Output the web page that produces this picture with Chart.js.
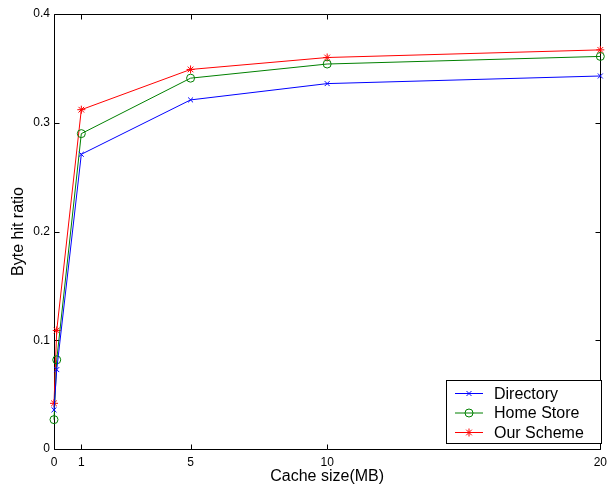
<!DOCTYPE html>
<html>
<head>
<meta charset="utf-8">
<script src="https://cdn.jsdelivr.net/npm/chart.js@4.4.1/dist/chart.umd.min.js"></script>
<style>
html,body{margin:0;padding:0;background:#fff;}
#c{display:block;}
</style>
</head>
<body>
<canvas id="c" width="613" height="486"></canvas>
<script>
const cacheSizes = [0, 0.1, 1, 5, 10, 20];
const directory = [0.036, 0.073, 0.271, 0.321, 0.336, 0.343];
const homeStore = [0.027, 0.082, 0.290, 0.341, 0.354, 0.361];
const ourScheme = [0.042, 0.109, 0.312, 0.349, 0.360, 0.367];
const xTicks = [0, 1, 5, 10, 20];
const yTicks = [0, 0.1, 0.2, 0.3, 0.4];
const seriesNames = ['Directory', 'Home Store', 'Our Scheme'];

const FONT = '"Liberation Sans", Arial, Helvetica, sans-serif';

function pts(ys){ return cacheSizes.map((x,i)=>({x:x, y:ys[i]})); }

const styles = [
  {color:'#0000ff', pointStyle:'crossRot', radius:3.5},
  {color:'#008000', pointStyle:'circle', radius:4},
  {color:'#ff0000', pointStyle:'star', radius:4}
];
const values = [directory, homeStore, ourScheme];

const datasets = values.map((v,i)=>({
  label: seriesNames[i],
  data: pts(v),
  borderColor: styles[i].color,
  backgroundColor: 'rgba(0,0,0,0)',
  borderWidth: 1,
  pointStyle: styles[i].pointStyle,
  pointRadius: styles[i].radius,
  pointBorderColor: styles[i].color,
  pointBackgroundColor: 'rgba(0,0,0,0)',
  pointBorderWidth: 1,
  showLine: true,
  tension: 0,
  clip: false
}));

const boxPlugin = {
  id: 'boxPlugin',
  beforeDatasetsDraw(chart){
    const {ctx, chartArea:a, scales} = chart;
    ctx.save();
    ctx.strokeStyle = '#000';
    ctx.lineWidth = 1;
    ctx.beginPath();
    const L = Math.round(a.left)+0.5, R = Math.round(a.right)+0.5, T = Math.round(a.top)+0.5, B = Math.round(a.bottom)+0.5;
    ctx.rect(L, T, R-L, B-T);
    const tl = 5;
    xTicks.forEach(v=>{
      const x = Math.round(scales.x.getPixelForValue(v))+0.5;
      ctx.moveTo(x, B); ctx.lineTo(x, B-tl);
      ctx.moveTo(x, T); ctx.lineTo(x, T+tl);
    });
    yTicks.forEach(v=>{
      const y = Math.round(scales.y.getPixelForValue(v))+0.5;
      ctx.moveTo(L, y); ctx.lineTo(L+tl, y);
      ctx.moveTo(R, y); ctx.lineTo(R-tl, y);
    });
    ctx.stroke();
    ctx.restore();
  },
  afterDraw(chart){
    const {ctx} = chart;
    ctx.save();
    const bx = 446.5, by = 380.5, bw = 155, bh = 63;
    ctx.fillStyle = '#fff';
    ctx.fillRect(bx, by, bw, bh);
    ctx.strokeStyle = '#000';
    ctx.lineWidth = 1;
    ctx.strokeRect(bx, by, bw, bh);
    const rows = [393, 412.5, 432];
    ctx.font = '16px ' + FONT;
    ctx.textBaseline = 'middle';
    ctx.textAlign = 'left';
    seriesNames.forEach((name,i)=>{
      const y = rows[i]+0.5;
      ctx.strokeStyle = styles[i].color;
      ctx.lineWidth = 1;
      ctx.beginPath();
      ctx.moveTo(455, y); ctx.lineTo(483, y);
      ctx.stroke();
      ctx.fillStyle = 'rgba(0,0,0,0)';
      ctx.strokeStyle = styles[i].color;
      Chart.helpers.drawPoint(ctx, {
        pointStyle: styles[i].pointStyle,
        radius: styles[i].radius,
        rotation: 0,
        borderWidth: 1
      }, 469, y);
      ctx.fillStyle = '#000';
      ctx.fillText(name, 494, y+1);
    });
    ctx.restore();
  }
};

new Chart(document.getElementById('c'), {
  type: 'scatter',
  data: { datasets },
  options: {
    responsive: false,
    animation: false,
    devicePixelRatio: 1,
    layout: { padding: { top: 14, right: 6, left: 0, bottom: 0 } },
    plugins: { legend: { display: false }, tooltip: { enabled: false } },
    scales: {
      x: {
        type: 'linear',
        min: 0, max: 20,
        afterBuildTicks(s){ s.ticks = xTicks.map(v=>({value:v})); },
        afterFit(s){ s.height = 37; },
        grid: { display: false, drawTicks: false },
        border: { display: false },
        ticks: { color: '#000', font: { family: FONT, size: 12 }, padding: 6, maxRotation: 0, autoSkip: false },
        title: { display: true, text: 'Cache size(MB)', color: '#000', font: { family: FONT, size: 16 }, padding: { top: 0, bottom: 0 } }
      },
      y: {
        type: 'linear',
        min: 0, max: 0.4,
        afterBuildTicks(s){ s.ticks = yTicks.map(v=>({value:v})); },
        afterFit(s){ s.width = 54; },
        grid: { display: false, drawTicks: false },
        border: { display: false },
        ticks: { color: '#000', font: { family: FONT, size: 12 }, padding: 4,
          callback: v => String(Math.round(v*10)/10) },
        title: { display: true, text: 'Byte hit ratio', color: '#000', font: { family: FONT, size: 16 }, padding: { top: 9, bottom: 0 } }
      }
    }
  },
  plugins: [boxPlugin]
});
</script>
</body>
</html>
